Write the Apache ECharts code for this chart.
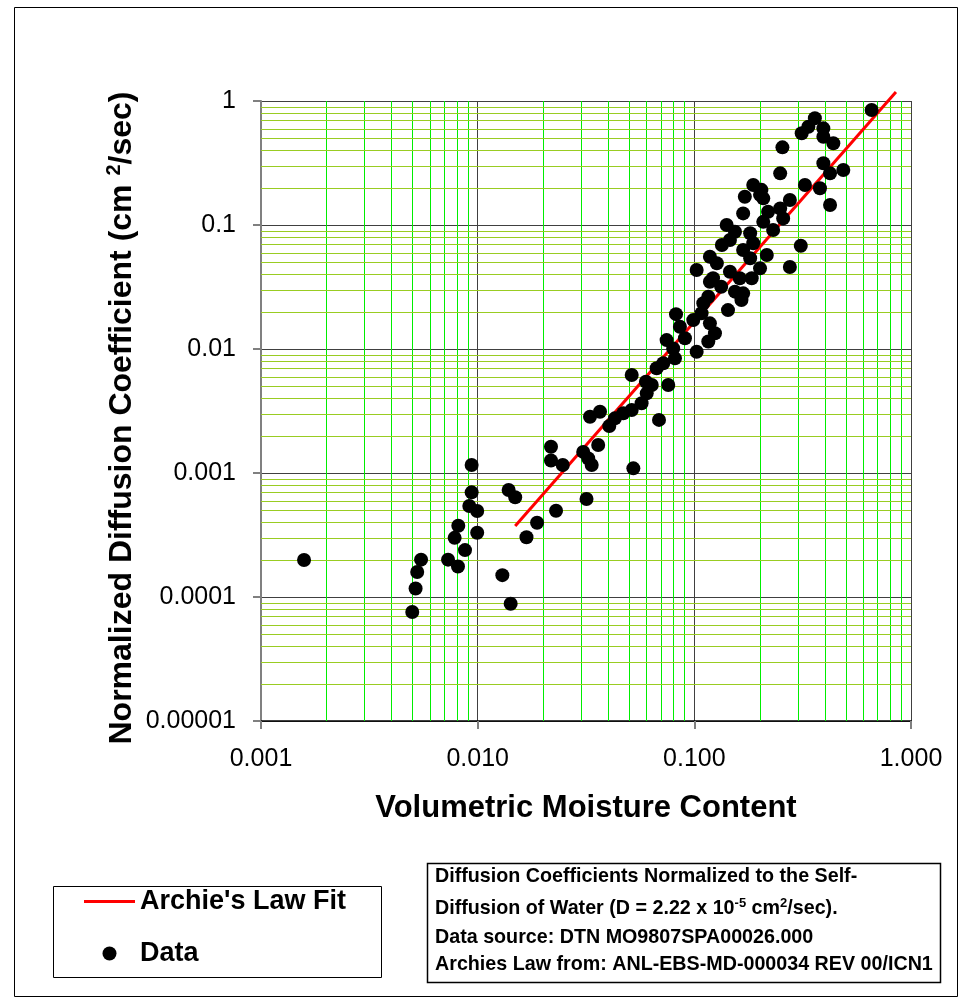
<!DOCTYPE html>
<html><head><meta charset="utf-8">
<script src="https://cdn.jsdelivr.net/npm/echarts@6/dist/echarts.min.js"></script>
<style>html,body{margin:0;padding:0;background:#fff}#chart{width:968px;height:1001px}</style>
</head><body><div id="chart"></div>
<script>
// ---- data ----
const moisture = [
  0.00158, 0.00499, 0.00517, 0.00526, 0.00548, 0.00730, 0.00811, 0.00783, 0.00814, 0.00874,
  0.00915, 0.00938, 0.00938, 0.00995, 0.00995, 0.0130, 0.0142, 0.0139, 0.0149, 0.0168,
  0.0188, 0.0230, 0.0218, 0.0218, 0.0247, 0.0307, 0.0324, 0.0336, 0.0318, 0.0360,
  0.0523, 0.0687, 0.0330, 0.0367, 0.0405, 0.0430, 0.0470, 0.0514, 0.0571, 0.0603,
  0.0514, 0.0598, 0.0758, 0.0636, 0.0670, 0.0719, 0.0814, 0.0799, 0.0745, 0.0905,
  0.1025, 0.0858, 0.0823, 0.0989, 0.108, 0.110, 0.116, 0.118, 0.1245, 0.116,
  0.118, 0.133, 0.154, 0.168, 0.165, 0.143, 0.1025, 0.122, 0.146, 0.162,
  0.184, 0.118, 0.127, 0.168, 0.181, 0.201, 0.216, 0.134, 0.146, 0.187,
  0.141, 0.154, 0.181, 0.168, 0.171, 0.201, 0.219, 0.249, 0.208, 0.231,
  0.276, 0.310, 0.187, 0.204, 0.208, 0.276, 0.255, 0.249, 0.324, 0.380,
  0.423, 0.394, 0.423, 0.487, 0.313, 0.336, 0.360, 0.394, 0.394, 0.438,
  0.658, 0.257
];
const diffusion = [
  0.000199, 0.0000757, 0.000117, 0.000159, 0.000200, 0.000200, 0.000176, 0.000300, 0.000376, 0.000239,
  0.000542, 0.000698, 0.00116, 0.000494, 0.000330, 0.000150, 0.0000883, 0.000730, 0.000637, 0.000303,
  0.000397, 0.000496, 0.00163, 0.00126, 0.00116, 0.00148, 0.00131, 0.00116, 0.000617, 0.00168,
  0.00109, 0.00268, 0.00284, 0.00312, 0.00239, 0.00276, 0.00303, 0.00322, 0.00365, 0.00439,
  0.00617, 0.00545, 0.00512, 0.00512, 0.00699, 0.00767, 0.00841, 0.0101, 0.0118, 0.0122,
  0.00951, 0.0151, 0.0191, 0.0171, 0.0194, 0.0234, 0.0264, 0.0161, 0.0134, 0.0115,
  0.0349, 0.0318, 0.0290, 0.0281, 0.0248, 0.0206, 0.0434, 0.0372, 0.0420, 0.0372,
  0.0372, 0.0555, 0.0491, 0.0629, 0.0539, 0.0447, 0.0573, 0.0690, 0.0757, 0.0712,
  0.100, 0.0883, 0.0857, 0.124, 0.169, 0.175, 0.128, 0.136, 0.106, 0.0911,
  0.0458, 0.0681, 0.210, 0.192, 0.164, 0.159, 0.423, 0.261, 0.210, 0.198,
  0.145, 0.315, 0.261, 0.278, 0.549, 0.620, 0.725, 0.602, 0.515, 0.456,
  0.846, 0.113
];
const fitMoisture = [0.0149, 0.852];
const fitDiffusion = [0.000374, 1.18];
const xTickLabels = ['0.001', '0.010', '0.100', '1.000'];
const yTickLabels = ['0.00001', '0.0001', '0.001', '0.01', '0.1', '1'];
const minorMultipliers = [2, 3, 4, 5, 6, 7, 8, 9];
const xDecades = [0.001, 0.01, 0.1];
const yDecades = [0.00001, 0.0001, 0.001, 0.01, 0.1];

// ---- build ----
const FONT = 'Arial, "Liberation Sans", sans-serif';
const X_MIN = 0.001, X_MAX = 1, Y_MIN = 0.00001, Y_MAX = 1;
const X_MIN_EXP = -3, Y_MIN_EXP = -5;
const xMinor = [], yMinor = [];
xDecades.forEach(d => minorMultipliers.forEach(m => xMinor.push([d * m, Y_MIN])));
yDecades.forEach(d => minorMultipliers.forEach(m => yMinor.push([X_MIN, d * m])));

function crisp(v) { return Math.round(v) + 0.5; }

const chart = echarts.init(document.getElementById('chart'), null, { renderer: 'canvas', width: 968, height: 1001 });
chart.setOption({
  animation: false,
  backgroundColor: '#ffffff',
  grid: { left: 261, top: 101, width: 650, height: 620, containLabel: false, outerBoundsMode: 'none' },
  xAxis: {
    type: 'log', logBase: 10, min: X_MIN, max: X_MAX,
    axisLine: { show: true, onZero: false, lineStyle: { color: '#000', width: 1.5 } },
    axisTick: { show: true, inside: false, length: 8, lineStyle: { color: '#808080', width: 2 } },
    axisLabel: { color: '#000', fontSize: 25, fontFamily: FONT, margin: 26,
      formatter: v => xTickLabels[Math.round(Math.log10(v)) - X_MIN_EXP] },
    splitLine: { show: true, lineStyle: { color: '#404040', width: 1 } },
    minorTick: { show: false }, minorSplitLine: { show: false }
  },
  yAxis: {
    type: 'log', logBase: 10, min: Y_MIN, max: Y_MAX,
    axisLine: { show: true, onZero: false, lineStyle: { color: '#808080', width: 2 } },
    axisTick: { show: true, inside: false, length: 8, lineStyle: { color: '#808080', width: 2 } },
    axisLabel: { color: '#000', fontSize: 25, fontFamily: FONT, margin: 25,
      formatter: v => yTickLabels[Math.round(Math.log10(v)) - Y_MIN_EXP] },
    splitLine: { show: true, lineStyle: { color: '#404040', width: 1 } },
    minorTick: { show: false }, minorSplitLine: { show: false }
  },
  legend: {
    data: [
      { name: "Archie's Law Fit", icon: 'path://M0,0L51,0L51,3L0,3Z' },
      { name: 'Data', icon: 'circle' }
    ],
    orient: 'vertical', left: 84, top: 888,
    itemWidth: 51, itemHeight: 14, itemGap: 25,
    padding: 0,
    textStyle: { color: '#000', fontSize: 27, fontWeight: 'bold', fontFamily: FONT },
    selectedMode: false
  },
  series: [
    {
      name: 'minorX', type: 'custom', silent: true, z: 1,
      data: xMinor,
      encode: { x: 0, y: 1 },
      renderItem: (params, api) => {
        const p1 = api.coord([api.value(0), Y_MIN]);
        const p2 = api.coord([api.value(0), Y_MAX]);
        const x = crisp(p1[0]);
        return { type: 'line', shape: { x1: x, y1: p1[1], x2: x, y2: p2[1] }, style: { stroke: '#00ee00', lineWidth: 1 } };
      }
    },
    {
      name: 'minorY', type: 'custom', silent: true, z: 1,
      data: yMinor,
      encode: { x: 0, y: 1 },
      renderItem: (params, api) => {
        const p1 = api.coord([X_MIN, api.value(1)]);
        const p2 = api.coord([X_MAX, api.value(1)]);
        const y = crisp(p1[1]);
        return { type: 'line', shape: { x1: p1[0], y1: y, x2: p2[0], y2: y }, style: { stroke: '#99cc22', lineWidth: 1 } };
      }
    },
    {
      name: "Archie's Law Fit", type: 'line', clip: false,
      data: fitMoisture.map((x, i) => [x, fitDiffusion[i]]),
      symbol: 'none', showSymbol: false, lineStyle: { color: '#ff0000', width: 3 }, itemStyle: { color: '#ff0000' },
      z: 3
    },
    {
      name: 'Data', type: 'scatter',
      data: moisture.map((x, i) => [x, diffusion[i]]),
      symbol: 'circle', symbolSize: 14, itemStyle: { color: '#000000', opacity: 1 },
      z: 4
    }
  ],
  graphic: [
    { type: 'rect', shape: { x: 14.5, y: 7.5, width: 943, height: 989 }, style: { fill: 'none', stroke: '#000', lineWidth: 1 }, z: 0 },
    { type: 'rect', shape: { x: 53.5, y: 886.5, width: 328, height: 91 }, style: { fill: 'none', stroke: '#000', lineWidth: 1 }, z: 0 },
    { type: 'rect', shape: { x: 427.5, y: 863.5, width: 513, height: 119 }, style: { fill: 'none', stroke: '#000', lineWidth: 1.5 }, z: 0 },
    { type: 'text', x: 586, y: 808, style: { text: 'Volumetric Moisture Content', font: 'bold 31px ' + FONT, fill: '#000', align: 'center', verticalAlign: 'middle', textAlign: 'center', textVerticalAlign: 'middle' } },
    { type: 'text', x: 122, y: 418, rotation: Math.PI / 2,
      style: { text: '{a|Normalized Diffusion Coefficient (cm }{s|2}{a|/sec)}', align: 'center', verticalAlign: 'middle', textAlign: 'center', textVerticalAlign: 'middle', fill: '#000',
        rich: { a: { fontSize: 32, fontWeight: 'bold', fontFamily: FONT, fill: '#000', color: '#000', lineHeight: 36 },
                s: { fontSize: 20, fontWeight: 'bold', fontFamily: FONT, fill: '#000', color: '#000', verticalAlign: 'top', lineHeight: 36 } } } },
    { type: 'text', x: 435, y: 877, style: { text: 'Diffusion Coefficients Normalized to the Self-', font: 'bold 19.7px ' + FONT, fill: '#000', verticalAlign: 'middle', textVerticalAlign: 'middle' } },
    { type: 'text', x: 435, y: 909, style: { text: '{t|Diffusion of Water (D = 2.22 x 10}{s|-5}{t| cm}{s|2}{t|/sec).}', verticalAlign: 'middle', textVerticalAlign: 'middle', fill: '#000',
        rich: { t: { fontSize: 19.7, fontWeight: 'bold', fontFamily: FONT, fill: '#000', color: '#000', lineHeight: 24 },
                s: { fontSize: 13, fontWeight: 'bold', fontFamily: FONT, fill: '#000', color: '#000', verticalAlign: 'top', lineHeight: 24 } } } },
    { type: 'text', x: 435, y: 938, style: { text: 'Data source: DTN MO9807SPA00026.000', font: 'bold 19.7px ' + FONT, fill: '#000', verticalAlign: 'middle', textVerticalAlign: 'middle' } },
    { type: 'text', x: 435, y: 965, style: { text: 'Archies Law from: ANL-EBS-MD-000034 REV 00/ICN1', font: 'bold 19.7px ' + FONT, fill: '#000', verticalAlign: 'middle', textVerticalAlign: 'middle' } }
  ]
});
</script></body></html>
